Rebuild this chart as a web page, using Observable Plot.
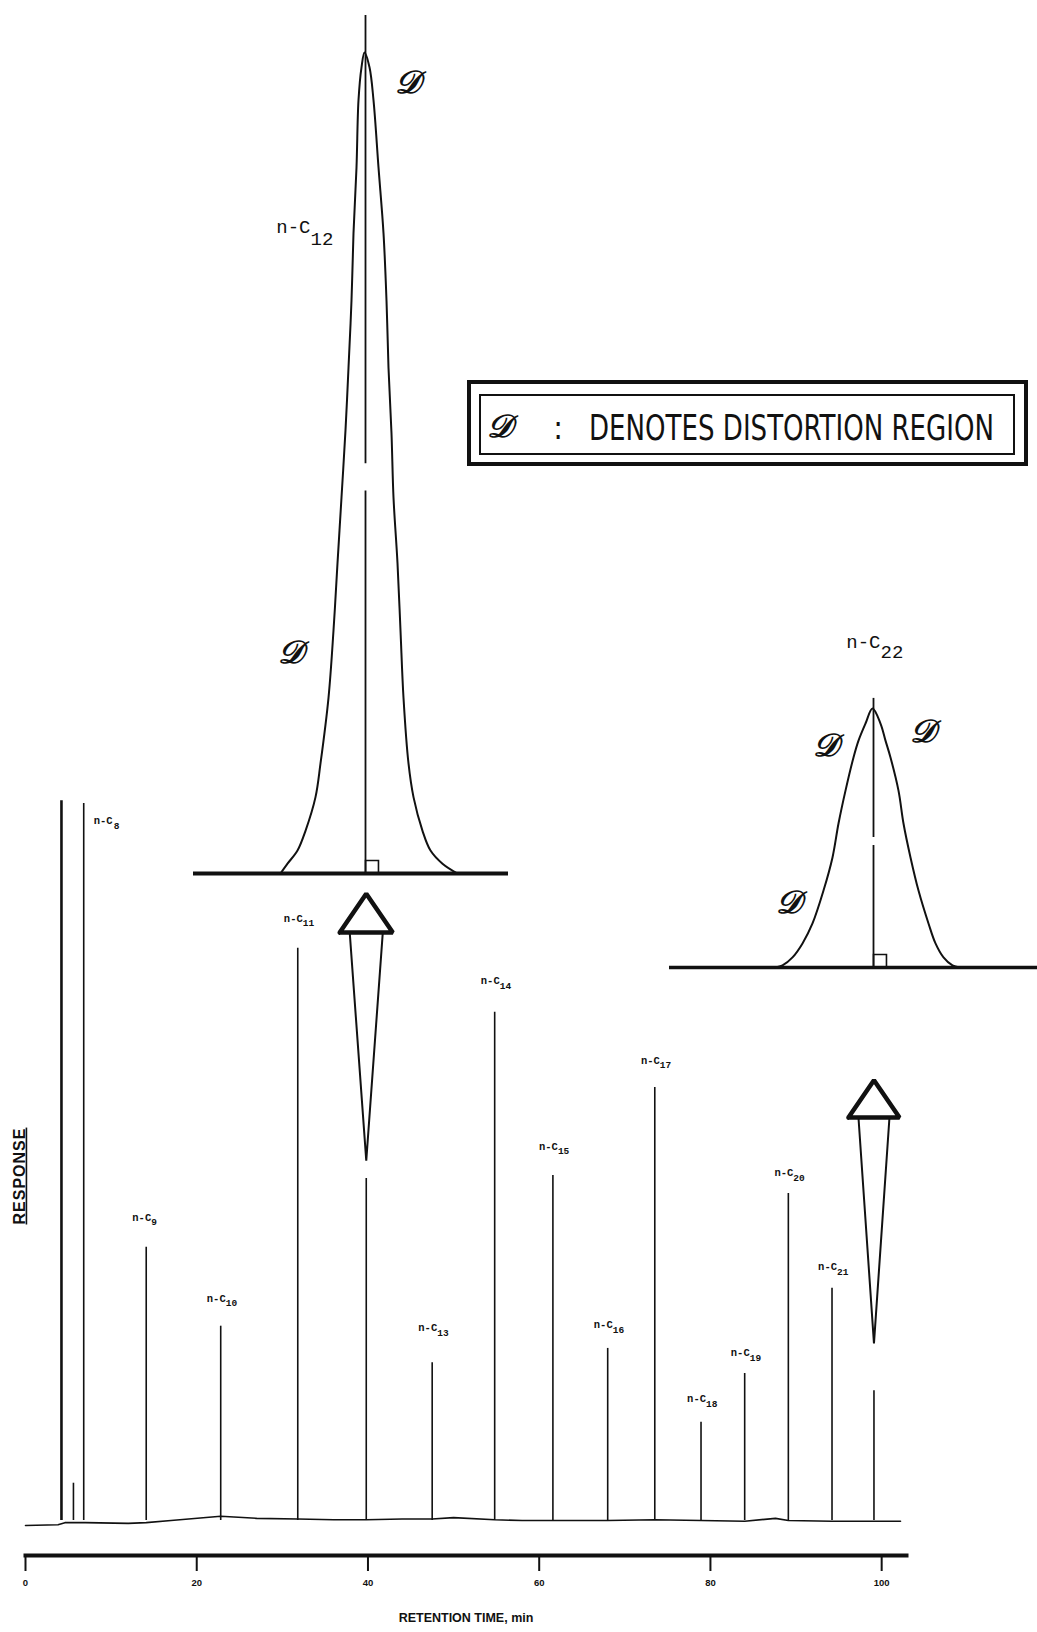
<!DOCTYPE html>
<html>
<head>
<meta charset="utf-8">
<script src="https://cdn.jsdelivr.net/npm/d3@7"></script>
<script src="https://cdn.jsdelivr.net/npm/@observablehq/plot@0.6"></script>
<style>
  body { margin: 0; background: #fff; }
  #fig { position: relative; width: 1037px; height: 1632px; overflow: hidden; background: #fff; }
  #fig svg { position: absolute; left: 0; top: 0; }
  .box { position: absolute; box-sizing: border-box; border-style: solid; border-color: #111; }
  .legtxt { position: absolute; color: #111; white-space: nowrap; line-height: 1; }
</style>
</head>
<body>
<div id="fig"></div>
<script>
// ---------------- data ----------------
// x-axis ticks (retention time, min)
const xTicks = [0, 20, 40, 60, 80, 100];

// chromatogram peaks: retention time (min) and response (% of n-C8 peak)
const peakTimes   = [4.2, 5.6, 6.8, 14.1, 22.8, 31.8, 39.8, 47.5, 54.8, 61.6, 68.0, 73.5, 78.9, 84.0, 89.1, 94.2, 99.1];
const peakHeights = [100.4, 5.2, 100, 38.1, 27.1, 79.8, 47.7, 22.0, 70.9, 48.1, 24.0, 60.4, 13.7, 20.5, 45.6, 32.4, 18.1];
const peakCarbons = [null, null, 8, 9, 10, 11, 12, 13, 14, 15, 16, 17, 18, 19, 20, 21, 22];

// baseline of the trace
const baselineTimes  = [0, 3.8, 4.6, 7, 12, 14.1, 17, 22.8, 27, 31.8, 36, 39.8, 44, 47.5, 50, 54.8, 58, 61.6, 68, 73.5, 78.9, 84, 87.6, 89.1, 94.2, 99.1, 102.2];
const baselineLevels = [-0.7, -0.6, -0.3, -0.3, -0.4, -0.3, 0.0, 0.6, 0.3, 0.2, 0.1, 0.1, 0.2, 0.2, 0.4, 0.1, 0.0, 0.0, 0.0, 0.1, 0.0, -0.1, 0.3, 0.0, -0.1, -0.1, -0.1];

// peak labels (carbon number, response level of the label)
const labelCarbons = [8, 9, 10, 11, 13, 14, 15, 16, 17, 18, 19, 20, 21];
const labelLevels  = [97.6, 42.3, 31.0, 84.0, 26.9, 75.3, 52.2, 27.3, 64.2, 17.0, 23.4, 48.5, 35.4];

// arrows pointing from peaks to the enlarged insets (response levels, half widths in min)
const arrowCarbons   = [12, 22];
const arrowApex      = [87.4, 61.4];
const arrowNeck      = [82.0, 56.2];
const arrowTip       = [50.2, 24.7];
const arrowHeadHalf  = [3.1, 2.98];
const arrowWedgeHalf = [1.93, 1.81];

// enlarged n-C12 peak: relative time and response (%)
const c12Time = [-8.5, -7.8, -6.8, -6.0, -5.0, -4.5, -3.7, -3.2, -2.8, -2.4, -2.0, -1.7, -1.4, -1.2, -0.9, -0.7, -0.4, -0.1,
                 0.4, 0.8, 1.3, 1.8, 2.1, 2.3, 2.6, 2.8, 3.2, 3.5, 3.8, 4.3, 4.8, 5.7, 6.5, 7.7, 9.2];
const c12Resp = [0, 1.2, 2.8, 5.2, 9.3, 13.4, 21.4, 29.6, 37.8, 45.8, 54.0, 61.6, 69.8, 78.0, 86.0, 94.2, 98.2, 100,
                 98.2, 94.2, 86.0, 78.0, 69.8, 61.6, 53.6, 45.8, 37.8, 29.6, 21.4, 13.4, 9.3, 5.2, 2.8, 1.2, 0];
const c12StemLow  = [0, 49.9];
const c12StemHigh = [46.6, 104.5];

// enlarged n-C22 peak
const c22Time = [-9.8, -9.1, -8.1, -7.1, -6.1, -5.0, -4.1, -3.5, -2.8, -2.0, -1.5, -0.8, -0.1,
                 0.7, 1.2, 1.7, 2.5, 3.0, 3.7, 4.5, 5.5, 6.2, 7.0, 7.9, 8.6];
const c22Resp = [0, 0.8, 3.9, 9.3, 17.0, 29.7, 42.5, 55.6, 68.3, 81.1, 87.6, 94.2, 100,
                 94.2, 87.6, 81.1, 68.3, 55.6, 42.5, 29.7, 17.0, 9.3, 3.9, 0.8, 0];
const c22StemLow  = [0, 50.2];
const c22StemHigh = [47.1, 103.9];

// "distortion region" markers on each inset (relative time, response %)
const c12DistT = [4.2, -7.5];
const c12DistR = [96.3, 26.9];
const c22DistT = [-4.8, 4.9, -8.5];
const c22DistR = [85.7, 91.1, 25.1];

const DSYM = "\u{1D49F}";
const legendText = "DENOTES DISTORTION REGION";

// ---------------- build tables ----------------
const peaks = peakTimes.map((t, i) => ({t, h: peakHeights[i], c: peakCarbons[i], solvent: i === 0}));
const timeOf = c => peaks.find(p => p.c === c).t;
const baseline = baselineTimes.map((t, i) => ({t, r: baselineLevels[i]}));
const labels = labelCarbons.map((c, i) => ({t: timeOf(c), y: labelLevels[i], sub: String(c), first: c === 8}));

const heads = [], wedges = [];
arrowCarbons.forEach((c, i) => {
  const t = timeOf(c), hh = arrowHeadHalf[i], wh = arrowWedgeHalf[i];
  [[t - hh, arrowNeck[i]], [t, arrowApex[i]], [t + hh, arrowNeck[i]], [t - hh, arrowNeck[i]]]
    .forEach(([x, y]) => heads.push({x, y, z: c}));
  [[t - wh, arrowNeck[i]], [t, arrowTip[i]], [t + wh, arrowNeck[i]]]
    .forEach(([x, y]) => wedges.push({x, y, z: c}));
});

const c12 = c12Time.map((t, i) => ({t, r: c12Resp[i]}));
const c22 = c22Time.map((t, i) => ({t, r: c22Resp[i]}));
const c12Stem = c12StemLow.map((a, i) => ({y1: a, y2: c12StemHigh[i]}));
const c22Stem = c22StemLow.map((a, i) => ({y1: a, y2: c22StemHigh[i]}));
const c12Dist = c12DistT.map((t, i) => ({t, r: c12DistR[i]}));
const c22Dist = c22DistT.map((t, i) => ({t, r: c22DistR[i]}));

const INK = "#111";
const MONO = "'Liberation Mono', 'DejaVu Sans Mono', monospace";
const SCRIPT = "'DejaVu Serif', 'DejaVu Sans', 'Liberation Serif', serif";
const W = 1037, H = 1632;

// ---------------- main chromatogram ----------------
const main = Plot.plot({
  width: W, height: H,
  marginLeft: 25, marginRight: 131, marginTop: 797, marginBottom: 77,
  style: {background: "transparent", fontFamily: "'Liberation Sans', Arial, sans-serif", color: INK, overflow: "visible"},
  x: {domain: [0, 102.9]},
  y: {domain: [0, 100], range: [1520, 803], axis: null},
  marks: [
    Plot.frame({anchor: "bottom", stroke: INK, strokeWidth: 4}),
    Plot.axisX({ticks: xTicks, tickSize: 16, tickPadding: 8, strokeWidth: 2, fontSize: 9.5, fontWeight: "bold", label: null, tickFormat: d => String(d)}),
    Plot.text(["RETENTION TIME, min"], {frameAnchor: "bottom", dy: 66, fontSize: 12.5, fontWeight: "bold", fill: INK}),
    Plot.text(["RESPONSE"], {frameAnchor: "left", dx: -6, dy: 48, rotate: -90, fontSize: 16, fontWeight: "bold", fill: INK}),
    Plot.line(baseline, {x: "t", y: "r", stroke: INK, strokeWidth: 1.6}),
    Plot.ruleX(peaks.filter(p => !p.solvent), {x: "t", y1: 0, y2: "h", stroke: INK, strokeWidth: 1.6}),
    Plot.ruleX(peaks.filter(p => p.solvent), {x: "t", y1: 0, y2: "h", stroke: INK, strokeWidth: 2.6}),
    Plot.text(labels.filter(d => !d.first), {x: "t", y: "y", text: () => "n-C", textAnchor: "end", dx: 5, fontFamily: MONO, fontSize: 10.5, fontWeight: "bold", fill: INK}),
    Plot.text(labels.filter(d => !d.first), {x: "t", y: "y", text: "sub", textAnchor: "start", dx: 5, dy: 5, fontFamily: MONO, fontSize: 9.5, fontWeight: "bold", fill: INK}),
    Plot.text(labels.filter(d => d.first), {x: "t", y: "y", text: () => "n-C", textAnchor: "start", dx: 10, fontFamily: MONO, fontSize: 10.5, fontWeight: "bold", fill: INK}),
    Plot.text(labels.filter(d => d.first), {x: "t", y: "y", text: "sub", textAnchor: "start", dx: 30, dy: 5, fontFamily: MONO, fontSize: 9.5, fontWeight: "bold", fill: INK}),
    Plot.line(wedges, {x: "x", y: "y", z: "z", stroke: INK, strokeWidth: 2, strokeLinejoin: "miter"}),
    Plot.line(heads, {x: "x", y: "y", z: "z", stroke: INK, strokeWidth: 4.5, strokeLinejoin: "miter"})
  ]
});
main.querySelectorAll("text").forEach(t => {
  if (t.textContent === "RESPONSE") {
    t.style.textDecoration = "underline";
    t.style.textUnderlineOffset = "6px";
    t.style.letterSpacing = "1px";
  }
});

// ---------------- inset builder ----------------
function inset(curve, stem, dist, sub, labelT, labelR, subDy, frame, xDomain, baseWidth) {
  return Plot.plot({
    width: W, height: H,
    marginLeft: frame[0], marginRight: frame[1], marginTop: frame[2], marginBottom: frame[3],
    style: {background: "transparent", overflow: "visible"},
    x: {domain: xDomain, axis: null},
    y: {domain: [0, 100], axis: null},
    marks: [
      Plot.ruleY([0], {stroke: INK, strokeWidth: baseWidth}),
      Plot.ruleX(stem, {x: 0, y1: "y1", y2: "y2", stroke: INK, strokeWidth: 1.8}),
      Plot.dot([0], {x: 0, y: 0, symbol: "square", r: 7.3, dx: 6.5, dy: -6.5, fill: "none", stroke: INK, strokeWidth: 1.6}),
      Plot.line(curve, {x: "t", y: "r", curve: "catmull-rom", stroke: INK, strokeWidth: 2}),
      Plot.text([0], {x: () => labelT, y: () => labelR, text: () => "n-C", textAnchor: "end", fontFamily: MONO, fontSize: 19, fill: INK}),
      Plot.text([0], {x: () => labelT, y: () => labelR, text: () => sub, textAnchor: "start", dy: subDy, fontFamily: MONO, fontSize: 19, fill: INK}),
      Plot.text(dist, {x: "t", y: "r", text: () => DSYM, fontFamily: SCRIPT, fontSize: 32, fontWeight: "bold", fontStyle: "italic", fill: INK})
    ]
  });
}

const inset12 = inset(c12, c12Stem, c12Dist, "12", -5.5, 78.8, 12, [193, 529, 52, 759], [-17.2, 14.3], 4);
const inset22 = inset(c22, c22Stem, c22Dist, "22", 0.7, 125.9, 10, [669, 0, 708, 665], [-20.4, 16.4], 3.5);

const fig = document.getElementById("fig");
fig.append(main, inset12, inset22);

// ---------------- boxed note ----------------
function box(l, t, w, h, bw) {
  const d = document.createElement("div");
  d.className = "box";
  Object.assign(d.style, {left: l + "px", top: t + "px", width: w + "px", height: h + "px", borderWidth: bw + "px"});
  fig.append(d);
}
box(467, 380, 561, 86, 4);
box(479, 394, 536, 61, 2);

function note(txt, left, cy, size, family, style, weight) {
  const s = document.createElement("span");
  s.className = "legtxt";
  s.textContent = txt;
  Object.assign(s.style, {left: left + "px", top: "0px", fontSize: size + "px", fontFamily: family, fontStyle: style || "normal", fontWeight: weight || "normal"});
  fig.append(s);
  const r = s.getBoundingClientRect();
  s.style.top = (cy - r.height / 2) + "px";
  return s;
}
const dSpan = note(DSYM, 0, 426, 32, SCRIPT, "italic", "bold");
dSpan.style.left = (500 - dSpan.getBoundingClientRect().width / 2) + "px";
const cSpan = note(":", 0, 428, 32, "'Liberation Sans Narrow', 'DejaVu Sans Condensed', sans-serif");
cSpan.style.left = (558 - cSpan.getBoundingClientRect().width / 2) + "px";
const tSpan = note(legendText, 589, 428, 36, "'Liberation Sans Narrow', 'DejaVu Sans Condensed', sans-serif");
const tw = tSpan.getBoundingClientRect().width;
tSpan.style.transformOrigin = "0 50%";
tSpan.style.transform = `scaleX(${405 / tw})`;
</script>
</body>
</html>
